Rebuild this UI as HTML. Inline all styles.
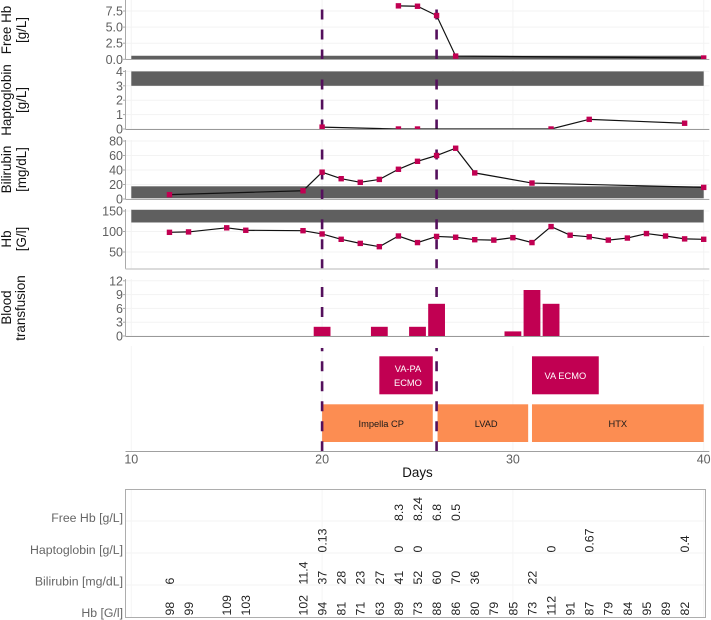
<!DOCTYPE html>
<html lang="en">
<head>
<meta charset="utf-8">
<title>Clinical timeline chart</title>
<style>
  html, body { margin: 0; padding: 0; background: #fff; }
  body { width: 711px; height: 620px; overflow: hidden; }
  svg { display: block; font-family: "Liberation Sans", sans-serif; filter: blur(0.3px); }
  .axis-title { font-size: 13.4px; fill: #111; text-anchor: middle; }
  .tick-label { font-size: 12.5px; fill: #5f5f5f; text-anchor: end; }
  .x-label { font-size: 12.5px; fill: #5f5f5f; text-anchor: middle; }
  .row-label { font-size: 12.3px; fill: #666; text-anchor: end; }
  .cell-label { font-size: 12.3px; fill: #222; text-anchor: start; }
  .box-label { font-size: 9.3px; text-anchor: middle; }
</style>
</head>
<body>
<svg id="chart" width="711" height="620" viewBox="0 0 711 620" xmlns="http://www.w3.org/2000/svg">
  <defs>
    <clipPath id="clip-free"><rect x="125" y="0" width="585" height="60"></rect></clipPath>
    <clipPath id="clip-hapto"><rect x="125" y="70" width="585" height="59.5"></rect></clipPath>
    <clipPath id="clip-bili"><rect x="125" y="140" width="585" height="59.5"></rect></clipPath>
    <clipPath id="clip-hb"><rect x="125" y="209" width="585" height="60"></rect></clipPath>
    <clipPath id="clip-blood"><rect x="125" y="279" width="585" height="57.5"></rect></clipPath>
  </defs>

  <g id="grid-layer"></g>
  <g id="band-layer"></g>
  <g id="box-layer"></g>
  <g id="vline-layer"></g>
  <g id="bar-layer" clip-path="url(#clip-blood)"></g>
  <g id="series-layer"></g>
  <g id="axis-layer"></g>

  <g>
    <text class="axis-title" transform="translate(11,30) rotate(-90)">Free Hb</text>
    <text class="axis-title" transform="translate(26,30) rotate(-90)">[g/L]</text>
    <text class="axis-title" transform="translate(11,100) rotate(-90)">Haptoglobin</text>
    <text class="axis-title" transform="translate(26,100) rotate(-90)">[g/L]</text>
    <text class="axis-title" transform="translate(11,169.5) rotate(-90)">Bilirubin</text>
    <text class="axis-title" transform="translate(26,169.5) rotate(-90)">[mg/dL]</text>
    <text class="axis-title" transform="translate(11,239) rotate(-90)">Hb</text>
    <text class="axis-title" transform="translate(26,239) rotate(-90)">[G/l]</text>
    <text class="axis-title" transform="translate(11,307.5) rotate(-90)">Blood</text>
    <text class="axis-title" transform="translate(25,308) rotate(-90)">transfusion</text>
    <text class="axis-title" x="417.5" y="477">Days</text>
  </g>

  <g>
    <rect x="125.5" y="489.5" width="580" height="128" fill="none" stroke="#adadad" stroke-width="1"></rect>
    <text class="row-label" x="123" y="522">Free Hb [g/L]</text>
    <text class="row-label" x="123" y="554">Haptoglobin [g/L]</text>
    <text class="row-label" x="123" y="585.5">Bilirubin [mg/dL]</text>
    <text class="row-label" x="123" y="617">Hb [G/l]</text>
    <g id="table-grid"></g>
    <g id="table-values"></g>
  </g>
</svg>

<script>
// ---- data ----
const freeHbDays = [24, 25, 26, 27, 40];
const freeHbValues = [8.3, 8.24, 6.8, 0.5, 0.2];
const haptoDays = [20, 24, 25, 32, 34, 39];
const haptoValues = [0.13, 0, 0, 0, 0.67, 0.4];
const biliDays = [12, 19, 20, 21, 22, 23, 24, 25, 26, 27, 28, 31, 40];
const biliValues = [6, 11.4, 37, 28, 23, 27, 41, 52, 60, 70, 36, 22, 16];
const hbDays = [12, 13, 15, 16, 19, 20, 21, 22, 23, 24, 25, 26, 27, 28, 29, 30, 31, 32, 33, 34, 35, 36, 37, 38, 39, 40];
const hbValues = [98, 99, 109, 103, 102, 94, 81, 71, 63, 89, 73, 88, 86, 80, 79, 85, 73, 112, 91, 87, 79, 84, 95, 89, 82, 81];
const bloodDays = [20, 23, 25, 26, 30, 31, 32];
const bloodValues = [2, 2, 2, 7, 1, 10, 7];
const eventDays = [20, 26];
const xTicks = [10, 20, 30, 40];
const freeHbTicks = [0, 2.5, 5, 7.5];
const freeHbTickLabels = ['0.0', '2.5', '5.0', '7.5'];
const haptoTicks = [0, 1, 2, 3, 4];
const biliTicks = [0, 20, 40, 60, 80];
const hbTicks = [50, 100, 150];
const bloodTicks = [0, 3, 6, 9, 12];
const freeHbBand = [0, 0.55];
const haptoBand = [3, 4];
const biliBand = [1, 17.5];
const hbBand = [122, 153];
const deviceLabels = ['Impella CP', 'LVAD', 'HTX'];
const deviceStarts = [20, 26.05, 31];
const deviceEnds = [25.8, 30.8, 40];
const deviceLabelDays = [23.1, 28.6, 35.5];
const ecmoStarts = [23, 31];
const ecmoEnds = [25.8, 34.5];
const ecmoLabelDays = [24.5, 32.75];
const lastPrintedDay = 39;

// ---- scales ----
const NS = 'http://www.w3.org/2000/svg';
function xOf(day) { return 131.3 + (day - 10) * 19.08; }
function freeY(v) { return 59.3 - v * 6.44; }
function haptoY(v) { return 129 - v * 14.4; }
function biliY(v) { return 199 - v * 0.725; }
function hbY(v) { return 252 - (v - 50) * 0.41; }
function bloodY(v) { return 336 - v * 4.6; }

const PINK = '#c10052', ORANGE = '#fc8d52', BAND = '#5f5f5f', EVENT = '#54105c';

function make(tag, attrs, parent) {
  const el = document.createElementNS(NS, tag);
  for (const k in attrs) el.setAttribute(k, attrs[k]);
  parent.appendChild(el);
  return el;
}
const grid = document.getElementById('grid-layer');
const bandLayer = document.getElementById('band-layer');
const boxLayer = document.getElementById('box-layer');
const vlineLayer = document.getElementById('vline-layer');
const barLayer = document.getElementById('bar-layer');
const seriesLayer = document.getElementById('series-layer');
const axisLayer = document.getElementById('axis-layer');
const tableGrid = document.getElementById('table-grid');
const tableValues = document.getElementById('table-values');

const LEFT = 125.5, RIGHT = 709.3;

function drawPanel(name, yOf, top, bottom, ticks, tickLabels, axisColor, axisWidth, band) {
  // grid
  ticks.forEach(function (t) {
    const g = make('line', { x1: LEFT, x2: RIGHT, y1: yOf(t), y2: yOf(t), stroke: '#f3f3f3', 'stroke-width': 1 }, grid);
    
    
  });
  xTicks.forEach(function (d) {
    const g = make('line', { x1: xOf(d), x2: xOf(d), y1: top, y2: bottom, stroke: '#f3f3f3', 'stroke-width': 1 }, grid);
    
    
  });
  // band
  if (band) {
    const r = make('rect', { x: xOf(10), width: xOf(40) - xOf(10), y: yOf(band[1]), height: yOf(band[0]) - yOf(band[1]), fill: BAND }, bandLayer);
    
    
  }
  // axes
  const yAxis = make('line', { x1: LEFT, x2: LEFT, y1: top, y2: bottom, stroke: '#aaa', 'stroke-width': 1 }, axisLayer);
  
  
  const xAxis = make('line', { x1: LEFT, x2: RIGHT, y1: bottom, y2: bottom, stroke: axisColor, 'stroke-width': axisWidth }, axisLayer);
  
  
  ticks.forEach(function (t, i) {
    const m = make('line', { x1: LEFT - 2.5, x2: LEFT, y1: yOf(t), y2: yOf(t), stroke: '#aaa', 'stroke-width': 1 }, axisLayer);
    
    
    const lab = make('text', { class: 'tick-label', x: 123, y: yOf(t) + 4.5 }, axisLayer);
    
    
    lab.textContent = tickLabels ? tickLabels[i] : String(t);
  });
}

function drawEvents(name, top, bottom) {
  eventDays.forEach(function (d) {
    const l = make('line', { x1: xOf(d), x2: xOf(d), y1: bottom, y2: top, stroke: EVENT, 'stroke-width': 2.6, 'stroke-dasharray': '10 10' }, vlineLayer);
    
    
  });
}

function drawSeries(name, clipId, days, values, yOf) {
  const g = make('g', { 'clip-path': 'url(#' + clipId + ')' }, seriesLayer);
  
  
  const pts = days.map(function (d, i) { return xOf(d).toFixed(2) + ',' + yOf(values[i]).toFixed(2); }).join(' ');
  const line = make('polyline', { points: pts, fill: 'none', stroke: '#111', 'stroke-width': 1.2 }, g);
  
  
  days.forEach(function (d, i) {
    const p = make('rect', { x: xOf(d) - 2.7, y: yOf(values[i]) - 2.7, width: 5.4, height: 5.4, fill: PINK }, g);
    
    
  });
}

function drawTableRow(name, days, values, base) {
  days.forEach(function (d, i) {
    if (d > lastPrintedDay) return;
    const x = xOf(d);
    const t = make('text', { class: 'cell-label', x: x, y: base, dy: '0.36em', transform: 'rotate(-90 ' + x.toFixed(2) + ' ' + base + ')' }, tableValues);
    
    
    t.textContent = String(values[i]);
  });
}

// ---- panels ----
drawPanel('free-hb', freeY, 0, 59.5, freeHbTicks, freeHbTickLabels, '#a8a8a8', 1, freeHbBand);
drawPanel('haptoglobin', haptoY, 70, 129.5, haptoTicks, null, '#999', 1, haptoBand);
drawPanel('bilirubin', biliY, 140, 199.5, biliTicks, null, '#aaa', 1, biliBand);
drawPanel('hb', hbY, 209, 269, hbTicks, null, '#cfcfcf', 1.6, hbBand);
drawPanel('blood', bloodY, 279, 336.5, bloodTicks, null, '#999', 1, null);

// ---- transfusion bars ----
bloodDays.forEach(function (d, i) {
  const b = make('rect', { x: xOf(d) - 8.4, width: 16.8, y: bloodY(bloodValues[i]), height: bloodY(0) - bloodY(bloodValues[i]), fill: PINK }, barLayer);
  
  
});

// ---- devices panel ----
xTicks.forEach(function (d) {
  const g = make('line', { x1: xOf(d), x2: xOf(d), y1: 346, y2: 451, stroke: '#f5f5f5', 'stroke-width': 1 }, grid);
  
  
});
ecmoStarts.forEach(function (s, i) {
  const r = make('rect', { x: xOf(s), y: 356.3, width: xOf(ecmoEnds[i]) - xOf(s), height: 38, fill: PINK }, boxLayer);
  
  
});
deviceStarts.forEach(function (s, i) {
  const r = make('rect', { x: xOf(s), y: 404.3, width: xOf(deviceEnds[i]) - xOf(s), height: 37.7, fill: ORANGE }, boxLayer);
  
  
  const t = make('text', { class: 'box-label', x: xOf(deviceLabelDays[i]), y: 426.8, fill: '#1a1a1a' }, axisLayer);
  
  
  t.textContent = deviceLabels[i];
});
const vaPa1 = make('text', { class: 'box-label', x: xOf(ecmoLabelDays[0]), y: 372.2, fill: '#fff' }, axisLayer);


vaPa1.textContent = 'VA-PA';
const vaPa2 = make('text', { class: 'box-label', x: xOf(ecmoLabelDays[0]), y: 386, fill: '#fff' }, axisLayer);


vaPa2.textContent = 'ECMO';
const vaLabel = make('text', { class: 'box-label', x: xOf(ecmoLabelDays[1]), y: 379.2, fill: '#fff' }, axisLayer);


vaLabel.textContent = 'VA ECMO';

// ---- shared x axis ----
const mainAxis = make('line', { x1: LEFT, x2: RIGHT, y1: 451.5, y2: 451.5, stroke: '#a0a0a0', 'stroke-width': 1 }, axisLayer);


xTicks.forEach(function (d) {
  const t = make('text', { class: 'x-label', x: xOf(d), y: 463.5 }, axisLayer);
  
  
  t.textContent = String(d);
});

// ---- event lines ----
drawEvents('free-hb', 0, 59.5);
drawEvents('haptoglobin', 70, 129.5);
drawEvents('bilirubin', 140, 199.5);
drawEvents('hb', 210, 269.3);
drawEvents('blood', 277, 337);
drawEvents('devices', 348, 451.3);

// ---- series ----
drawSeries('free-hb', 'clip-free', freeHbDays, freeHbValues, freeY);
drawSeries('haptoglobin', 'clip-hapto', haptoDays, haptoValues, haptoY);
drawSeries('bilirubin', 'clip-bili', biliDays, biliValues, biliY);
drawSeries('hb', 'clip-hb', hbDays, hbValues, hbY);

// ---- table ----
[521, 553, 585].forEach(function (y) {
  const g = make('line', { x1: 126, x2: 705, y1: y, y2: y, stroke: '#f3f3f3', 'stroke-width': 1 }, tableGrid);
  
  
});
xTicks.forEach(function (d) {
  const g = make('line', { x1: xOf(d), x2: xOf(d), y1: 490, y2: 617, stroke: '#f5f5f5', 'stroke-width': 1 }, tableGrid);
  
  
});
drawTableRow('free-hb', freeHbDays, freeHbValues, 521);
drawTableRow('haptoglobin', haptoDays, haptoValues, 552.5);
drawTableRow('bilirubin', biliDays, biliValues, 584.5);
drawTableRow('hb', hbDays, hbValues, 615.5);
</script>
</body>
</html>
